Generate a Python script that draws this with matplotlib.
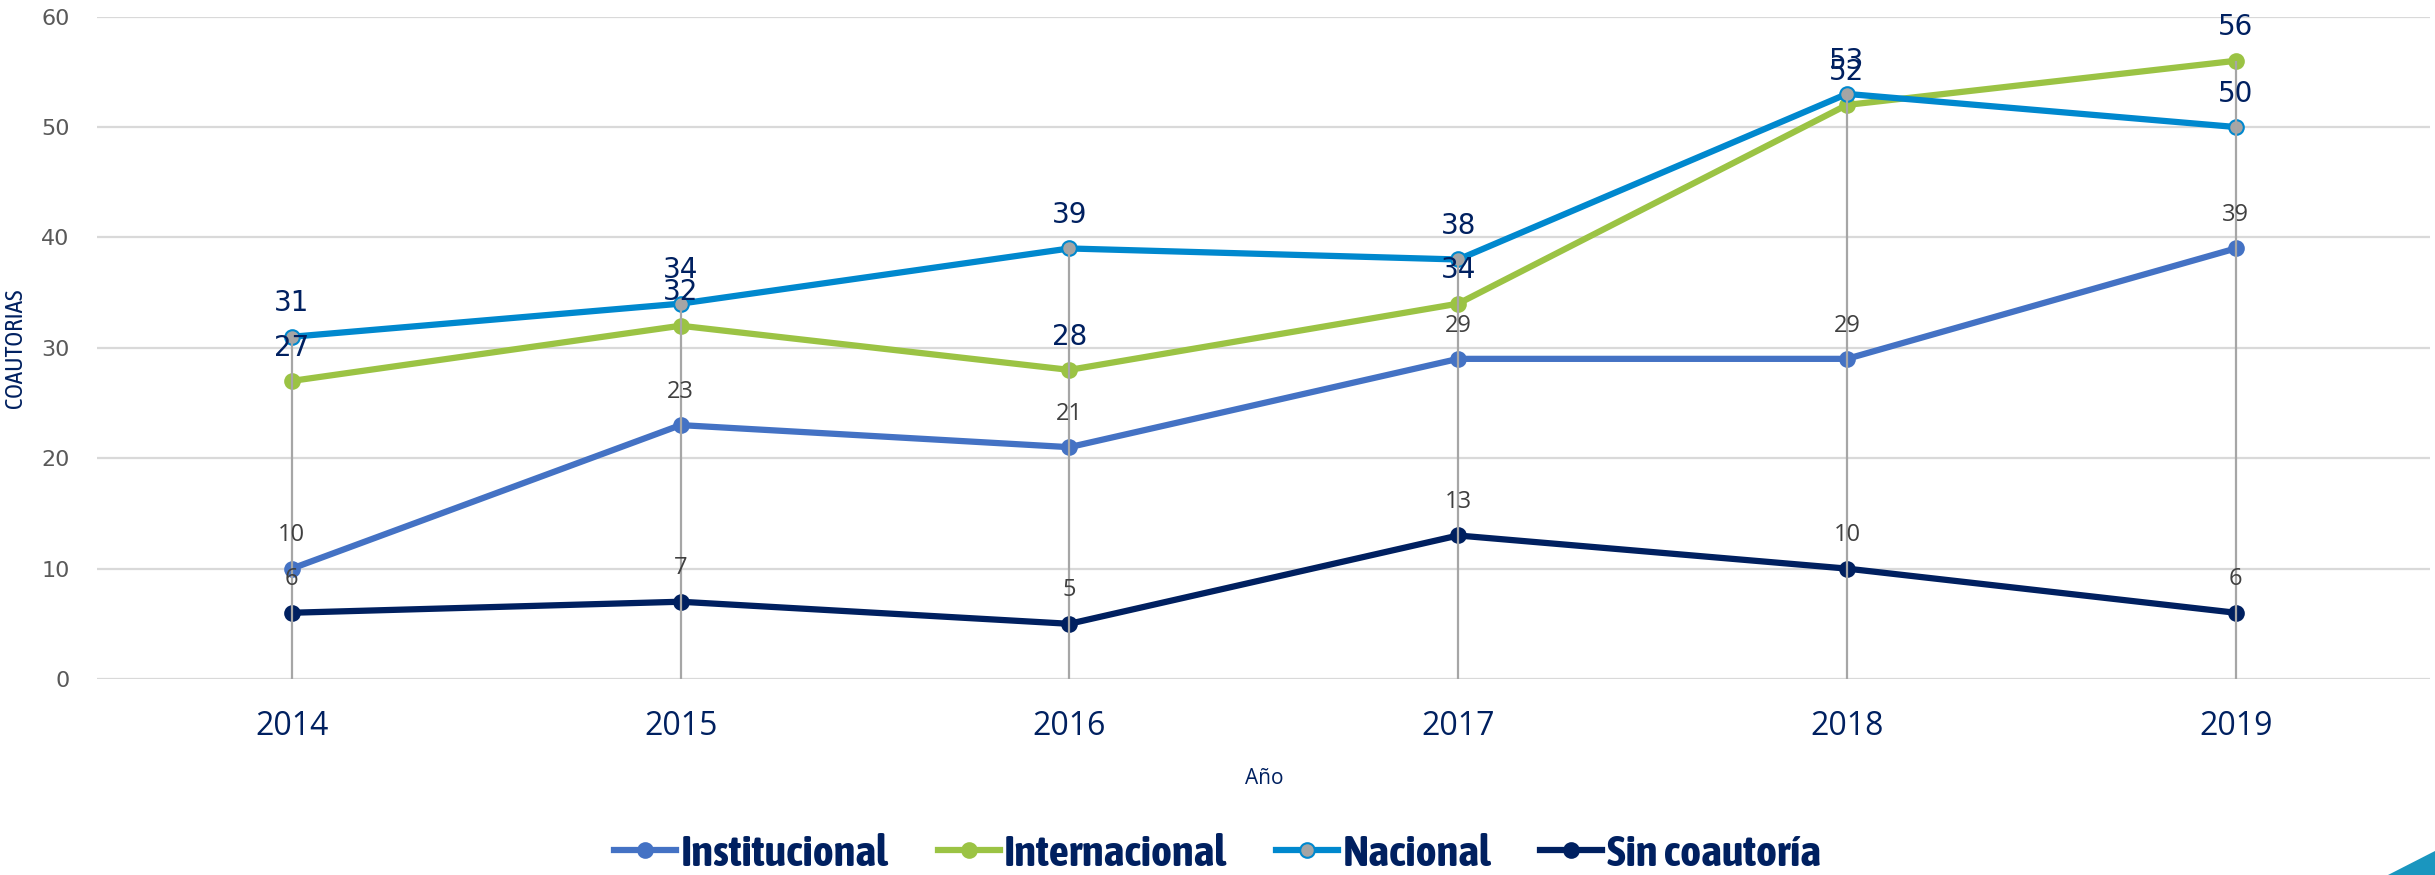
import matplotlib.pyplot as plt
from matplotlib.patches import Polygon
from matplotlib import font_manager as fm
import numpy as np

# datos
anios = ['2014', '2015', '2016', '2017', '2018', '2019']
institucional = [10, 23, 21, 29, 29, 39]
internacional = [27, 32, 28, 34, 52, 56]
nacional = [31, 34, 39, 38, 53, 50]
sin_coautoria = [6, 7, 5, 13, 10, 6]

NAVY = '#002060'
GRIS = '#404040'


def peso(w):
    return w if isinstance(w, int) else fm.weight_dict.get(w, 400)


# buscar una fuente condensada instalada, mejor si tiene negrita
cond = [f for f in fm.fontManager.ttflist if 'Narrow' in f.name or 'Condensed' in f.name]
con_negrita = sorted({f.name for f in cond if peso(f.weight) >= 600 and f.style == 'normal'})
todas = sorted({f.name for f in cond})
fuente_leg = con_negrita[0] if con_negrita else (todas[0] if todas else None)

fig = plt.figure(figsize=(24.35, 8.75), dpi=100)
ax = fig.add_axes([0.040, 0.224, 0.958, 0.757])

x = np.arange(len(anios))
series = [
    ('Institucional', institucional, '#4472C4', '#4472C4', GRIS, 17),
    ('Internacional', internacional, '#9BC344', '#9BC344', NAVY, 20),
    ('Nacional', nacional, '#0088CE', '#A5A5A5', NAVY, 20),
    ('Sin coautoría', sin_coautoria, '#002060', '#002060', GRIS, 17),
]

# lineas de caida
tope = np.max([s[1] for s in series], axis=0)
ax.vlines(x, 0, tope, color='#A6A6A6', lw=1.6, zorder=5)

for nombre, vals, col, relleno, col_txt, fs in series:
    ax.plot(x, vals, color=col, lw=4.5, marker='o', ms=10.5,
            markerfacecolor=relleno, markeredgecolor=col, markeredgewidth=1.5,
            label=nombre, zorder=4)
    fam = ['DejaVu Sans'] if col_txt == NAVY else ['Open Sans', 'DejaVu Sans']
    for xi, v in zip(x, vals):
        ax.annotate(str(v), (xi, v), textcoords='offset points', xytext=(0, 24),
                    ha='center', va='center', fontsize=fs, color=col_txt,
                    family=fam, zorder=6)

ax.set_xlim(-0.5, len(anios) - 0.5)
ax.set_ylim(0, 60)
ax.set_yticks(range(0, 61, 10))
ax.set_xticks(x)
ax.set_xticklabels(anios, fontsize=23, color=NAVY, family=['Open Sans', 'DejaVu Sans'])
ax.tick_params(axis='y', labelsize=16, labelcolor='#595959', length=0, pad=20)
ax.tick_params(axis='x', length=0, pad=22)
ax.grid(axis='y', color='#D9D9D9', lw=1.6)
ax.set_axisbelow(True)
for sp in ax.spines.values():
    sp.set_visible(False)

if fuente_leg:
    prop_leg = {'family': [fuente_leg, 'DejaVu Sans'], 'weight': 'bold', 'size': 32}
    fam_y = [fuente_leg, 'DejaVu Sans']
else:
    prop_leg = {'family': ['DejaVu Sans'], 'weight': 'bold', 'size': 25}
    fam_y = ['DejaVu Sans']

ax.set_ylabel('COAUTORIAS', fontsize=18, color=NAVY, family=fam_y, labelpad=10)
ax.set_xlabel('Año', fontsize=15, color=NAVY, family=['Open Sans', 'DejaVu Sans'], labelpad=18)

leg = fig.legend(loc='center', bbox_to_anchor=(0.5, 0.024), ncol=4, frameon=False,
                 prop=prop_leg, handlelength=1.4, handletextpad=0.1, columnspacing=1.1)
for t in leg.get_texts():
    t.set_color(NAVY)

# triangulo decorativo
fig.patches.append(Polygon([[2388 / 2435, 0], [1, 24 / 875], [1, 0]], closed=True,
                           transform=fig.transFigure, facecolor='#1A96BF',
                           edgecolor='none'))

fig.savefig('out.png', dpi=100)
